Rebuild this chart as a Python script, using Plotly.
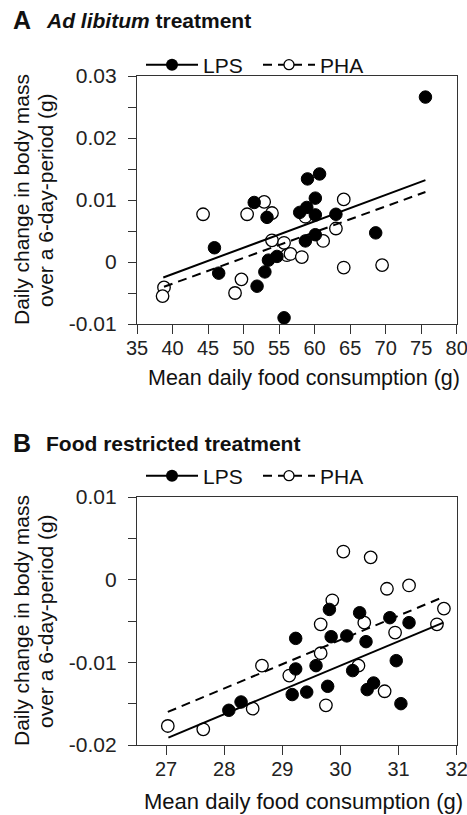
import plotly.graph_objects as go

# ---------------- Panel A: Ad libitum treatment ----------------
a_lps_x = [45.9, 46.5, 51.5, 51.9, 53.3, 53.0, 53.5, 54.7, 55.7, 57.9,
           59.0, 60.7, 60.1, 58.9, 60.1, 63.0, 58.7, 60.1, 68.6, 75.6]
a_lps_y = [0.0023, -0.0018, 0.0096, -0.0039, 0.0072, -0.0016, 0.0003, 0.0009, -0.0090, 0.0080,
           0.0134, 0.0142, 0.0103, 0.0088, 0.0076, 0.0077, 0.0034, 0.0044, 0.0047, 0.0266]
a_pha_x = [38.8, 38.6, 44.3, 48.8, 49.7, 50.5, 52.9, 54.0, 54.0, 55.7,
           56.1, 56.6, 58.2, 58.7, 61.2, 63.0, 64.1, 64.1, 69.5]
a_pha_y = [-0.0041, -0.0055, 0.0077, -0.0050, -0.0028, 0.0077, 0.0097, 0.0079, 0.0035, 0.0031,
           0.0011, 0.0013, 0.0008, 0.0073, 0.0034, 0.0054, 0.0101, -0.0009, -0.0005]
a_lps_fit_x = [38.7, 75.6]
a_lps_fit_y = [-0.0025, 0.0132]
a_pha_fit_x = [38.8, 75.6]
a_pha_fit_y = [-0.0040, 0.0113]
a_xticks = [35, 40, 45, 50, 55, 60, 65, 70, 75, 80]
a_yticks = [-0.01, 0, 0.01, 0.02, 0.03]
a_yticktext = ["-0.01", "0", "0.01", "0.02", "0.03"]

# ---------------- Panel B: Food restricted treatment ----------------
b_lps_x = [29.81, 30.33, 30.85, 31.18, 29.23, 29.84, 30.11, 30.44, 30.96, 29.23,
           29.58, 30.21, 29.78, 30.57, 30.46, 29.17, 29.42, 31.04, 28.29, 28.08]
b_lps_y = [-0.0036, -0.0040, -0.0046, -0.0052, -0.0071, -0.0069, -0.0068, -0.0075, -0.0098, -0.0108,
           -0.0104, -0.0110, -0.0129, -0.0125, -0.0133, -0.0139, -0.0136, -0.0150, -0.0148, -0.0158]
b_pha_x = [27.03, 27.64, 28.49, 28.65, 29.12, 29.66, 29.66, 29.75, 29.86, 30.05,
           30.31, 30.41, 30.52, 30.76, 30.80, 30.94, 31.18, 31.66, 31.78]
b_pha_y = [-0.0177, -0.0181, -0.0156, -0.0104, -0.0116, -0.0089, -0.0054, -0.0152, -0.0025, 0.0034,
           -0.0104, -0.0052, 0.0027, -0.0135, -0.0011, -0.0064, -0.0007, -0.0054, -0.0035]
b_lps_fit_x = [27.04, 31.77]
b_lps_fit_y = [-0.0191, -0.0052]
b_pha_fit_x = [27.03, 31.77]
b_pha_fit_y = [-0.0160, -0.0021]
b_xticks = [27, 28, 29, 30, 31, 32]
b_yticks = [-0.02, -0.01, 0, 0.01]
b_yticktext = ["-0.02", "-0.01", "0", "0.01"]

series_names = ["LPS", "PHA"]
x_title = "Mean daily food consumption (g)"
y_title_1 = "Daily change in body mass"
y_title_2 = "over a 6-day-period (g)"

W, H = 467, 815
FONT = "Liberation Sans, Arial, sans-serif"
AXC = "#333333"


def fx(p):
    return p / W


def fy(p):
    return 1 - p / H


fig = go.Figure()

MS = 12.5
DASH = "9px,6px"


def add_panel(xs_open, ys_open, xs_fill, ys_fill, fitL, fitP, xa, ya, leg):
    # open circles (PHA)
    fig.add_trace(go.Scatter(x=xs_open, y=ys_open, mode="markers", xaxis=xa, yaxis=ya,
                             marker=dict(symbol="circle", size=MS, color="white",
                                         line=dict(color="black", width=1.3)),
                             showlegend=False, hoverinfo="skip"))
    # fit lines
    fig.add_trace(go.Scatter(x=fitP[0], y=fitP[1], mode="lines", xaxis=xa, yaxis=ya,
                             line=dict(color="black", width=2, dash=DASH),
                             showlegend=False, hoverinfo="skip"))
    fig.add_trace(go.Scatter(x=fitL[0], y=fitL[1], mode="lines", xaxis=xa, yaxis=ya,
                             line=dict(color="black", width=2),
                             showlegend=False, hoverinfo="skip"))
    # filled circles (LPS)
    fig.add_trace(go.Scatter(x=xs_fill, y=ys_fill, mode="markers", xaxis=xa, yaxis=ya,
                             marker=dict(symbol="circle", size=MS, color="black",
                                         line=dict(color="black", width=1)),
                             showlegend=False, hoverinfo="skip"))
    # legend entries
    fig.add_trace(go.Scatter(x=[None], y=[None], mode="lines+markers", xaxis=xa, yaxis=ya,
                             name=series_names[0], legend=leg,
                             line=dict(color="black", width=2),
                             marker=dict(symbol="circle", size=12, color="black")))
    fig.add_trace(go.Scatter(x=[None], y=[None], mode="lines+markers", xaxis=xa, yaxis=ya,
                             name=series_names[1], legend=leg,
                             line=dict(color="black", width=2, dash=DASH),
                             marker=dict(symbol="circle", size=10, color="white",
                                         line=dict(color="black", width=1.3))))


add_panel(a_pha_x, a_pha_y, a_lps_x, a_lps_y,
          (a_lps_fit_x, a_lps_fit_y), (a_pha_fit_x, a_pha_fit_y), "x", "y", "legend")
add_panel(b_pha_x, b_pha_y, b_lps_x, b_lps_y,
          (b_lps_fit_x, b_lps_fit_y), (b_pha_fit_x, b_pha_fit_y), "x2", "y2", "legend2")

common_axis = dict(showline=True, linecolor=AXC, linewidth=1.3, mirror=True,
                   ticks="outside", tickcolor=AXC, tickwidth=1.3, showgrid=False,
                   zeroline=False, automargin=False, ticklabeloverflow="allow")

x_tickfont = dict(family=FONT, size=20, color="#222")
y_tickfont = dict(family=FONT, size=21, color="#222")
minor_y = dict(tickmode="linear", tick0=0, dtick=0.005, ticklen=8, ticks="outside",
               tickcolor=AXC, tickwidth=1.3, showgrid=False)

xdom = [fx(137), fx(456.7)]

legend_common = dict(orientation="h", xanchor="left", yanchor="middle",
                     font=dict(family=FONT, size=21, color="#111"), bgcolor="rgba(0,0,0,0)",
                     itemwidth=52, entrywidth=50, entrywidthmode="pixels")

fig.update_layout(
    width=W, height=H,
    margin=dict(l=0, r=0, t=0, b=0),
    paper_bgcolor="white", plot_bgcolor="white",
    font=dict(family=FONT, color="#111"),
    xaxis=dict(domain=xdom, anchor="y", range=[35, 80], tickmode="array",
               tickvals=a_xticks, ticklen=9, ticklabelstandoff=-3, tickfont=x_tickfont,
               **common_axis),
    yaxis=dict(domain=[fy(324), fy(76)], anchor="x", range=[-0.01, 0.03], tickmode="array",
               tickvals=a_yticks, ticktext=a_yticktext, ticklen=8, ticklabelstandoff=7,
               tickfont=y_tickfont, minor=minor_y, **common_axis),
    xaxis2=dict(domain=xdom, anchor="y2", range=[26.5, 32], tickmode="array",
                tickvals=b_xticks, ticklen=9, ticklabelstandoff=-3, tickfont=x_tickfont,
                **common_axis),
    yaxis2=dict(domain=[fy(745), fy(497)], anchor="x2", range=[-0.02, 0.01], tickmode="array",
                tickvals=b_yticks, ticktext=b_yticktext, ticklen=8, ticklabelstandoff=7,
                tickfont=y_tickfont, minor=minor_y, **common_axis),
    legend=dict(x=fx(141), y=fy(65), **legend_common),
    legend2=dict(x=fx(141), y=fy(476), **legend_common),
)

ann = []
# panel titles
ann.append(dict(text="<b>A</b>", x=fx(11), y=fy(20), xanchor="left", yanchor="middle",
                font=dict(family=FONT, size=25, color="#111")))
ann.append(dict(text="<b><i>Ad libitum</i> treatment</b>", x=fx(44), y=fy(21), xanchor="left",
                yanchor="middle", font=dict(family=FONT, size=21, color="#111")))
ann.append(dict(text="<b>B</b>", x=fx(11), y=fy(443), xanchor="left", yanchor="middle",
                font=dict(family=FONT, size=25, color="#111")))
ann.append(dict(text="<b>Food restricted treatment</b>", x=fx(44), y=fy(444), xanchor="left",
                yanchor="middle", font=dict(family=FONT, size=21, color="#111")))
# axis titles
for (cy, xt_y, xt_x, xsz) in [(200, 378, 304, 21.5), (621, 801, 303, 22)]:
    ann.append(dict(text=y_title_1, x=fx(21), y=fy(cy), xanchor="center", yanchor="middle",
                    textangle=-90, font=dict(family=FONT, size=21, color="#111")))
    ann.append(dict(text=y_title_2, x=fx(45), y=fy(cy), xanchor="center", yanchor="middle",
                    textangle=-90, font=dict(family=FONT, size=21, color="#111")))
    ann.append(dict(text=x_title, x=fx(xt_x), y=fy(xt_y), xanchor="center", yanchor="middle",
                    font=dict(family=FONT, size=xsz, color="#111")))
for a in ann:
    a.update(xref="paper", yref="paper", showarrow=False)
fig.update_layout(annotations=ann)

fig.write_html("out.html", config={"displayModeBar": False},
               post_script="document.body.style.margin='0';document.body.style.overflow='hidden';")
